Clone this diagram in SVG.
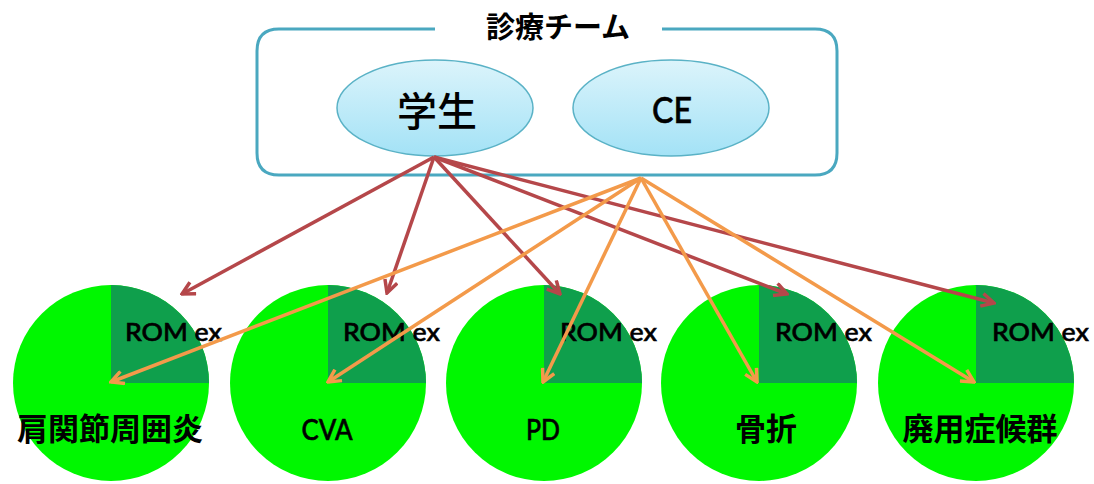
<svg xmlns="http://www.w3.org/2000/svg" width="1094" height="484" viewBox="0 0 1094 484">
<style>
.cjk{font-family:"Noto Sans CJK JP","Noto Sans",sans-serif;font-weight:bold;fill:#000}
.cjkm{font-family:"Noto Sans CJK JP","Noto Sans",sans-serif;font-weight:500;fill:#000}
.lat{font-family:Lato,"Liberation Sans",Arial,sans-serif;font-weight:500;fill:#000;stroke:#000;stroke-width:0.6}
.pie{fill:#00f700}
.q{fill:#0f9f4c}
.red{stroke:#b5474a;stroke-width:3.5;fill:none;marker-end:url(#ar)}
.org{stroke:#f39a4a;stroke-width:3.5;fill:none;marker-end:url(#ao)}
.ell{fill:url(#eg);stroke:#5ab2c6;stroke-width:1.5}
</style>
<defs>
<linearGradient id="eg" x1="0" y1="0" x2="0" y2="1">
<stop offset="0" stop-color="#dcf4fb"/>
<stop offset="1" stop-color="#a3e2f6"/>
</linearGradient>
<marker id="ar" viewBox="0 0 16 16" refX="14" refY="8" markerWidth="16" markerHeight="16" markerUnits="userSpaceOnUse" orient="auto">
<path d="M1.5,1.5 L14,8 L1.5,14.5" fill="none" stroke="#b5474a" stroke-width="3.5" stroke-linejoin="miter"/>
</marker>
<marker id="ao" viewBox="0 0 16 16" refX="14" refY="8" markerWidth="16" markerHeight="16" markerUnits="userSpaceOnUse" orient="auto">
<path d="M1.5,1.5 L14,8 L1.5,14.5" fill="none" stroke="#f39a4a" stroke-width="3.5" stroke-linejoin="miter"/>
</marker>
</defs>
<rect width="1094" height="484" fill="#fff"/>

<g id="team">
<path d="M435,29 H279 Q257,29 257,51 V153 Q257,175 279,175 H815 Q837,175 837,153 V51 Q837,29 815,29 H662" fill="none" stroke="#4aa8c0" stroke-width="3"/>
<text class="cjk" x="558" y="38" font-size="29" text-anchor="middle">診療チーム</text>
</g>
<g id="student">
<ellipse class="ell" cx="435" cy="108" rx="98" ry="48"/>
<text class="cjkm" x="437" y="126" font-size="40" text-anchor="middle">学生</text>
</g>
<g id="ce">
<ellipse class="ell" cx="671" cy="108" rx="98" ry="48"/>
<text class="lat" x="672" y="123" font-size="36" text-anchor="middle" textLength="40" lengthAdjust="spacingAndGlyphs">CE</text>
</g>

<g id="pie1">
<circle class="pie" cx="111" cy="383" r="98"/>
<path class="q" d="M111,383 V285 A98,98 0 0 1 209,383 Z"/>
<text class="lat" x="125" y="341" font-size="25" textLength="97" lengthAdjust="spacingAndGlyphs">ROM ex</text>
<text class="cjk" x="110" y="440" font-size="31" text-anchor="middle">肩関節周囲炎</text>
</g>
<g id="pie2">
<circle class="pie" cx="328" cy="383" r="98"/>
<path class="q" d="M328,383 V285 A98,98 0 0 1 426,383 Z"/>
<text class="lat" x="343" y="341" font-size="25" textLength="97" lengthAdjust="spacingAndGlyphs">ROM ex</text>
<text class="lat" x="327" y="440" font-size="28" text-anchor="middle" textLength="51" lengthAdjust="spacingAndGlyphs">CVA</text>
</g>
<g id="pie3">
<circle class="pie" cx="544" cy="383" r="98"/>
<path class="q" d="M544,383 V285 A98,98 0 0 1 642,383 Z"/>
<text class="lat" x="560" y="341" font-size="25" textLength="97" lengthAdjust="spacingAndGlyphs">ROM ex</text>
<text class="lat" x="543" y="440" font-size="28" text-anchor="middle" textLength="34" lengthAdjust="spacingAndGlyphs">PD</text>
</g>
<g id="pie4">
<circle class="pie" cx="759" cy="383" r="98"/>
<path class="q" d="M759,383 V285 A98,98 0 0 1 857,383 Z"/>
<text class="lat" x="775" y="341" font-size="25" textLength="97" lengthAdjust="spacingAndGlyphs">ROM ex</text>
<text class="cjk" x="766" y="440" font-size="31" text-anchor="middle">骨折</text>
</g>
<g id="pie5">
<circle class="pie" cx="976" cy="383" r="98"/>
<path class="q" d="M976,383 V285 A98,98 0 0 1 1074,383 Z"/>
<text class="lat" x="992" y="341" font-size="25" textLength="97" lengthAdjust="spacingAndGlyphs">ROM ex</text>
<text class="cjk" x="980" y="440" font-size="31" text-anchor="middle">廃用症候群</text>
</g>

<g id="connectors">
<line class="red" x1="434" y1="157" x2="182" y2="294"/>
<line class="red" x1="434" y1="157" x2="387" y2="293"/>
<line class="red" x1="434" y1="157" x2="560" y2="294"/>
<line class="red" x1="434" y1="157" x2="787" y2="294"/>
<line class="red" x1="434" y1="157" x2="994" y2="303"/>
<line class="org" x1="641" y1="178" x2="111" y2="382"/>
<line class="org" x1="641" y1="178" x2="328" y2="382"/>
<line class="org" x1="641" y1="178" x2="543" y2="382"/>
<line class="org" x1="641" y1="178" x2="757" y2="382"/>
<line class="org" x1="641" y1="178" x2="974" y2="382"/>
</g>
</svg>
